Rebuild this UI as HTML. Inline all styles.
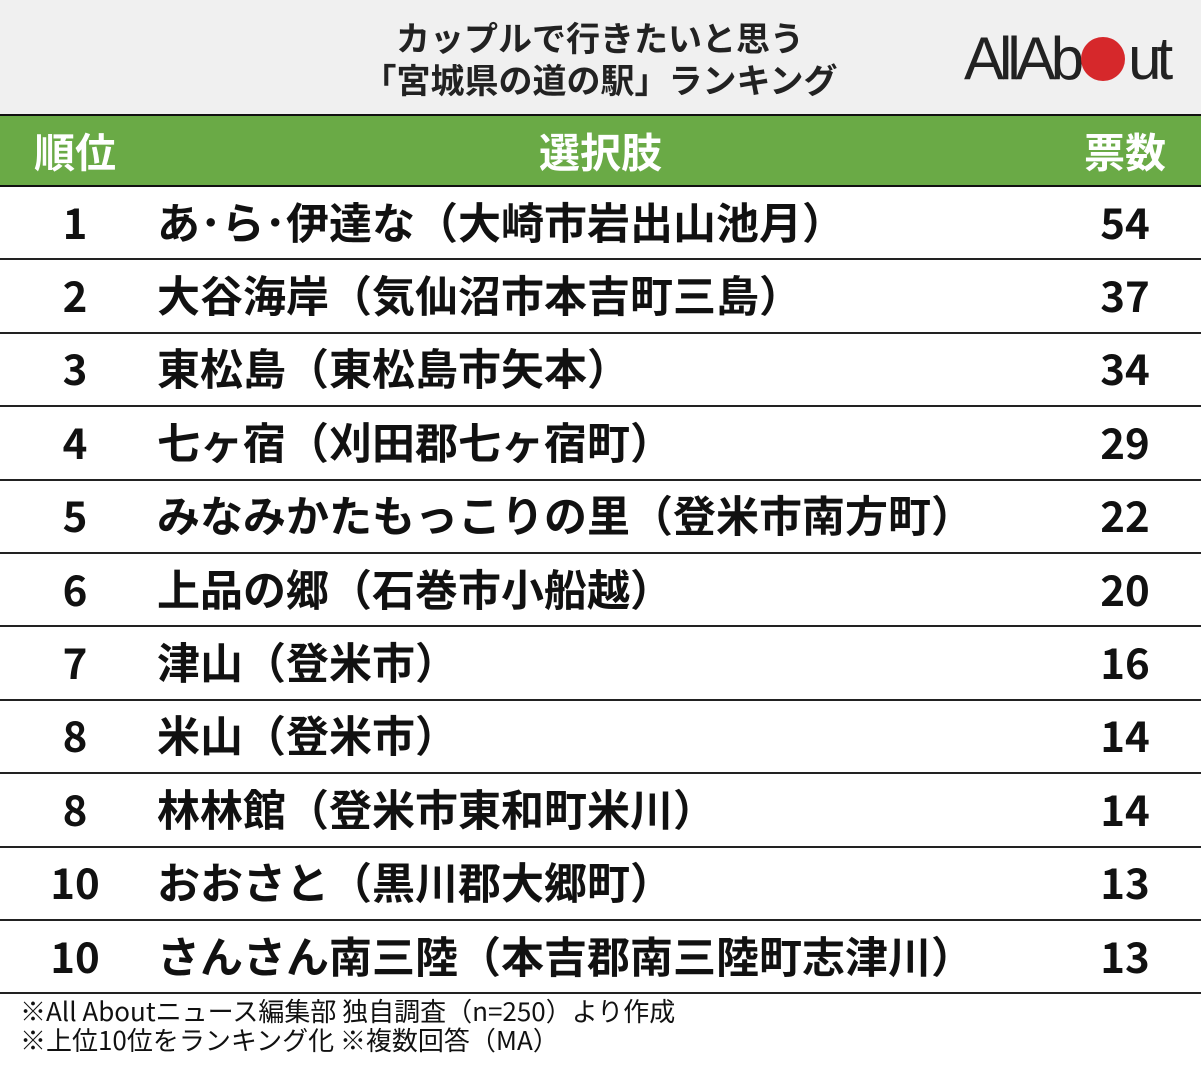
<!DOCTYPE html>
<html><head><meta charset="utf-8"><style>
body{margin:0;width:1201px;height:1069px;background:#fff;font-family:"Noto Sans CJK JP",sans-serif;position:relative;overflow:hidden}
.hd{position:absolute;left:0;top:0;width:1201px;height:114px;background:#f0f0f0}
.t{position:absolute;left:250px;width:700px;text-align:center;font-weight:bold;font-size:34px;color:#222;line-height:42px;top:16px}
.logo{position:absolute;left:964px;top:26px;font-size:60px;letter-spacing:-5px;color:#222;font-family:"Liberation Sans",sans-serif;line-height:66px}
.dot{display:inline-block;width:44px;height:44px;border-radius:50%;background:#d6282b;vertical-align:-2px;margin:0 3px 0 2px}
.gr{position:absolute;left:0;top:114px;width:1201px;height:73px;background:#6aaa46;border-top:2px solid #111;border-bottom:2px solid #111;box-sizing:border-box;color:#fff;font-weight:bold;font-size:41px}
.row{position:absolute;left:0;width:1201px;height:73.4px;border-bottom:2px solid #222;box-sizing:border-box;font-weight:bold;font-size:43px;color:#111}
.c1,.c2,.c3{position:absolute;top:50%;transform:translateY(-52%);white-space:nowrap;line-height:1.2}
.c1{left:0;width:150px;text-align:center;font-size:42px}
.c2{left:157px}
.c3{left:1050px;width:150px;text-align:center;font-size:42px}
.ft{position:absolute;left:20px;top:996px;font-size:26px;line-height:29px;color:#111}
</style></head><body>
<div class="hd"><div class="t">カップルで行きたいと思う<br>「宮城県の道の駅」ランキング</div>
<div class="logo">AllAb<span class="dot"></span>ut</div></div>
<div class="gr"><span class="c1" style="font-size:41px">順位</span><span class="c2" style="left:0;width:1201px;text-align:center">選択肢</span><span class="c3" style="font-size:41px">票数</span></div>
<div class="row" style="top:187px"><span class="c1">1</span><span class="c2">あ･ら･伊達な（大崎市岩出山池月）</span><span class="c3">54</span></div>
<div class="row" style="top:260.4px"><span class="c1">2</span><span class="c2">大谷海岸（気仙沼市本吉町三島）</span><span class="c3">37</span></div>
<div class="row" style="top:333.8px"><span class="c1">3</span><span class="c2">東松島（東松島市矢本）</span><span class="c3">34</span></div>
<div class="row" style="top:407.2px"><span class="c1">4</span><span class="c2">七ヶ宿（刈田郡七ヶ宿町）</span><span class="c3">29</span></div>
<div class="row" style="top:480.6px"><span class="c1">5</span><span class="c2">みなみかたもっこりの里（登米市南方町）</span><span class="c3">22</span></div>
<div class="row" style="top:554px"><span class="c1">6</span><span class="c2">上品の郷（石巻市小船越）</span><span class="c3">20</span></div>
<div class="row" style="top:627.4px"><span class="c1">7</span><span class="c2">津山（登米市）</span><span class="c3">16</span></div>
<div class="row" style="top:700.8px"><span class="c1">8</span><span class="c2">米山（登米市）</span><span class="c3">14</span></div>
<div class="row" style="top:774.2px"><span class="c1">8</span><span class="c2">林林館（登米市東和町米川）</span><span class="c3">14</span></div>
<div class="row" style="top:847.6px"><span class="c1">10</span><span class="c2">おおさと（黒川郡大郷町）</span><span class="c3">13</span></div>
<div class="row" style="top:921px"><span class="c1">10</span><span class="c2">さんさん南三陸（本吉郡南三陸町志津川）</span><span class="c3">13</span></div>
<div class="ft">※All Aboutニュース編集部 独自調査（n=250）より作成<br>※上位10位をランキング化 ※複数回答（MA）</div>
</body></html>
